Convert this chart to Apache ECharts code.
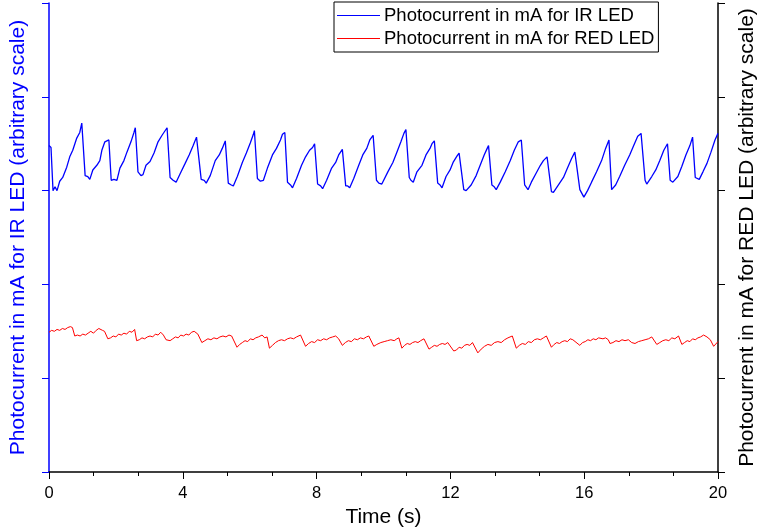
<!DOCTYPE html>
<html>
<head>
<meta charset="utf-8">
<style>
  html, body { margin: 0; padding: 0; background: #fff; }
  #chart { width: 761px; height: 532px; }
</style>
<script src="https://cdn.jsdelivr.net/npm/echarts@6/dist/echarts.min.js"></script>
</head>
<body>
<div id="chart"></div>
<script>
// 数据
const xTicks = [0, 4, 8, 12, 16, 20];

const irTime = [
  0, 0.06, 0.12, 0.18, 0.24, 0.32, 0.41, 0.53, 0.62, 0.71, 0.83, 0.92, 0.98,
  1.08, 1.16, 1.22, 1.31, 1.43, 1.52, 1.58, 1.67, 1.79,
  1.86, 1.94, 2.03, 2.12, 2.24, 2.33, 2.45, 2.54, 2.58,
  2.66, 2.75, 2.81, 2.90, 3.02, 3.14, 3.26, 3.38, 3.53,
  3.62, 3.71, 3.80, 3.92, 4.07, 4.19, 4.31, 4.41, 4.46,
  4.55, 4.64, 4.70, 4.82, 4.97, 5.09, 5.18, 5.27,
  5.36, 5.45, 5.51, 5.63, 5.78, 5.90, 6.02, 6.11, 6.14,
  6.23, 6.32, 6.41, 6.53, 6.68, 6.80, 6.92, 6.98, 7.01, 7.05,
  7.13, 7.22, 7.28, 7.40, 7.55, 7.67, 7.79, 7.88, 7.94,
  8.03, 8.12, 8.18, 8.30, 8.45, 8.57, 8.66, 8.77,
  8.87, 8.93, 8.99, 9.11, 9.26, 9.38, 9.50, 9.59, 9.69,
  9.79, 9.86, 9.95, 10.13, 10.28, 10.40, 10.52, 10.61, 10.67,
  10.77, 10.82, 10.89, 11.00, 11.15, 11.27, 11.39, 11.45, 11.52,
  11.62, 11.69, 11.75, 11.87, 11.99, 12.08, 12.20, 12.26, 12.30,
  12.40, 12.47, 12.50, 12.62, 12.77, 12.89, 13.01, 13.10, 13.14,
  13.24, 13.31, 13.37, 13.49, 13.64, 13.79, 13.91, 14.03, 14.12,
  14.22, 14.27, 14.32, 14.42, 14.57, 14.69, 14.78, 14.89,
  15.02, 15.08, 15.12, 15.23, 15.38, 15.50, 15.62, 15.72,
  15.87, 15.92, 15.99, 16.10, 16.22, 16.37, 16.52, 16.64, 16.74,
  16.82, 16.87, 16.94, 17.06, 17.21, 17.36, 17.48, 17.60, 17.70,
  17.82, 17.87, 17.92, 18.02, 18.14, 18.26, 18.38, 18.49,
  18.57, 18.65, 18.70, 18.80, 18.92, 19.04, 19.16, 19.24,
  19.32, 19.37, 19.44, 19.55, 19.67, 19.79, 19.91, 20.0
];
const irCurrent = [
  3.48, 3.46, 3.00, 3.04, 3.00, 3.10, 3.14, 3.25, 3.36, 3.43, 3.56, 3.62, 3.72,
  3.16, 3.15, 3.12, 3.22, 3.27, 3.32, 3.43, 3.52, 3.54,
  3.11, 3.12, 3.11, 3.24, 3.32, 3.41, 3.52, 3.62, 3.67,
  3.20, 3.16, 3.17, 3.27, 3.31, 3.40, 3.52, 3.59, 3.67,
  3.14, 3.11, 3.09, 3.18, 3.29, 3.38, 3.48, 3.57, 3.59,
  3.12, 3.11, 3.08, 3.16, 3.32, 3.38, 3.45, 3.53,
  3.08, 3.06, 3.05, 3.15, 3.30, 3.40, 3.51, 3.60, 3.64,
  3.13, 3.10, 3.11, 3.24, 3.38, 3.45, 3.54, 3.60, 3.59, 3.62,
  3.09, 3.06, 3.03, 3.13, 3.27, 3.36, 3.43, 3.46, 3.50,
  3.07, 3.05, 3.02, 3.11, 3.24, 3.30, 3.38, 3.44,
  3.05, 3.05, 3.03, 3.13, 3.27, 3.38, 3.45, 3.54, 3.59,
  3.11, 3.08, 3.07, 3.20, 3.30, 3.41, 3.52, 3.61, 3.65,
  3.14, 3.11, 3.09, 3.20, 3.27, 3.38, 3.45, 3.50, 3.53,
  3.08, 3.06, 3.03, 3.15, 3.22, 3.30, 3.37, 3.40, 3.41,
  3.01, 3.00, 2.99, 3.06, 3.16, 3.27, 3.38, 3.45, 3.48,
  3.06, 3.04, 3.01, 3.09, 3.20, 3.32, 3.43, 3.52, 3.54,
  3.06, 3.04, 3.01, 3.09, 3.19, 3.27, 3.32, 3.36,
  2.99, 2.98, 2.97, 3.06, 3.14, 3.24, 3.34, 3.41,
  3.01, 3.02, 2.93, 3.00, 3.09, 3.20, 3.32, 3.45, 3.54,
  3.01, 3.02, 3.06, 3.15, 3.27, 3.38, 3.48, 3.58, 3.61,
  3.11, 3.07, 3.05, 3.15, 3.22, 3.32, 3.43, 3.50,
  3.11, 3.09, 3.07, 3.15, 3.26, 3.38, 3.48, 3.57,
  3.14, 3.13, 3.12, 3.20, 3.29, 3.41, 3.54, 3.61
];

const redTime = [
  0, 0.08, 0.16, 0.24, 0.32, 0.40, 0.48, 0.56, 0.64, 0.70, 0.77,
  0.85, 0.93, 1.01, 1.09, 1.17, 1.25, 1.33, 1.41, 1.49, 1.54, 1.60, 1.66, 1.76,
  1.84, 1.92, 2.00, 2.08, 2.16, 2.24, 2.32, 2.40, 2.48, 2.56, 2.62,
  2.70, 2.78, 2.86, 2.94, 3.02, 3.10, 3.18, 3.26, 3.34, 3.42, 3.50, 3.62,
  3.70, 3.78, 3.86, 3.94, 4.02, 4.10, 4.18, 4.26, 4.34, 4.45, 4.57,
  4.66, 4.75, 4.84, 4.93, 5.02, 5.11, 5.20, 5.29, 5.38, 5.46, 5.51, 5.62,
  5.70, 5.78, 5.86, 5.94, 6.02, 6.10, 6.18, 6.26, 6.37, 6.45, 6.52, 6.59,
  6.68, 6.77, 6.86, 6.95, 7.04, 7.13, 7.22, 7.31, 7.40, 7.52, 7.67,
  7.76, 7.85, 7.94, 8.03, 8.12, 8.21, 8.30, 8.39, 8.48, 8.57, 8.66, 8.77,
  8.86, 8.95, 9.04, 9.13, 9.22, 9.31, 9.40, 9.49, 9.56, 9.71, 9.80, 9.92,
  10.02, 10.12, 10.22, 10.32, 10.40, 10.46, 10.55,
  10.63, 10.71, 10.79, 10.87, 10.95, 11.03, 11.11, 11.21, 11.36,
  11.44, 11.52, 11.60, 11.68, 11.76, 11.84, 11.92, 11.96, 12.10,
  12.18, 12.26, 12.34, 12.42, 12.50, 12.58, 12.66, 12.70, 12.82,
  12.92, 13.02, 13.12, 13.22, 13.32, 13.42, 13.52, 13.62, 13.72, 13.85, 13.97,
  14.06, 14.15, 14.24, 14.33, 14.42, 14.51, 14.60, 14.69, 14.78, 14.87, 15.02,
  15.10, 15.18, 15.26, 15.34, 15.42, 15.50, 15.58, 15.66, 15.71, 15.87,
  15.95, 16.03, 16.11, 16.19, 16.27, 16.35, 16.43, 16.47, 16.56, 16.64, 16.72, 16.77,
  16.86, 16.95, 17.04, 17.13, 17.22, 17.32, 17.42, 17.52, 17.62, 17.72, 17.82, 17.92, 18.02, 18.17,
  18.26, 18.35, 18.44, 18.53, 18.62, 18.71, 18.82, 18.92,
  19.00, 19.08, 19.16, 19.24, 19.32, 19.40, 19.48, 19.57, 19.67, 19.77, 19.87, 20.0
];
const redCurrent = [
  1.49, 1.51, 1.50, 1.52, 1.51, 1.53, 1.52, 1.54, 1.55, 1.54, 1.45,
  1.46, 1.45, 1.47, 1.46, 1.48, 1.50, 1.48, 1.51, 1.53, 1.54, 1.51, 1.50, 1.42,
  1.43, 1.45, 1.44, 1.47, 1.46, 1.48, 1.47, 1.50, 1.49, 1.52, 1.40,
  1.41, 1.43, 1.42, 1.44, 1.45, 1.44, 1.47, 1.46, 1.49, 1.46, 1.41, 1.40,
  1.42, 1.44, 1.43, 1.46, 1.45, 1.47, 1.46, 1.49, 1.50, 1.47, 1.38,
  1.40, 1.42, 1.41, 1.43, 1.42, 1.44, 1.45, 1.44, 1.46, 1.45, 1.47, 1.33,
  1.36, 1.38, 1.40, 1.39, 1.42, 1.41, 1.43, 1.44, 1.46, 1.43, 1.44, 1.32,
  1.35, 1.38, 1.40, 1.41, 1.40, 1.42, 1.43, 1.42, 1.44, 1.46, 1.34,
  1.37, 1.39, 1.38, 1.41, 1.40, 1.42, 1.41, 1.43, 1.44, 1.45, 1.42, 1.35,
  1.38, 1.40, 1.39, 1.42, 1.41, 1.43, 1.42, 1.44, 1.45, 1.34, 1.36, 1.38,
  1.39, 1.40, 1.41, 1.40, 1.42, 1.43, 1.32,
  1.35, 1.37, 1.36, 1.38, 1.39, 1.38, 1.40, 1.42, 1.31,
  1.33, 1.35, 1.34, 1.36, 1.37, 1.36, 1.38, 1.39, 1.29,
  1.30, 1.33, 1.32, 1.35, 1.36, 1.35, 1.38, 1.39, 1.27,
  1.31, 1.34, 1.36, 1.35, 1.38, 1.39, 1.38, 1.41, 1.43, 1.45, 1.32,
  1.35, 1.37, 1.36, 1.39, 1.38, 1.41, 1.42, 1.41, 1.43, 1.45, 1.33,
  1.36, 1.38, 1.37, 1.39, 1.40, 1.39, 1.42, 1.41, 1.42, 1.35,
  1.38, 1.39, 1.41, 1.40, 1.42, 1.41, 1.43, 1.44, 1.42, 1.43, 1.41, 1.37,
  1.38, 1.40, 1.39, 1.41, 1.40, 1.41, 1.38, 1.37, 1.39, 1.40, 1.41, 1.42, 1.44, 1.36,
  1.38, 1.40, 1.41, 1.40, 1.43, 1.42, 1.45, 1.36,
  1.38, 1.40, 1.39, 1.42, 1.41, 1.43, 1.44, 1.46, 1.44, 1.41, 1.34, 1.39
];

const irName = 'Photocurrent in mA for IR LED';
const redName = 'Photocurrent in mA for RED LED';

const zip = (xs, ys) => xs.map((x, i) => [x, ys[i]]);
const font = 'Liberation Sans, Arial, sans-serif';
const blue = '#0000ff';

const chart = echarts.init(document.getElementById('chart'));
chart.setOption({
    animation: false,
    backgroundColor: '#fff',
    grid: { left: 49, right: 43, top: 3, bottom: 60, outerBoundsMode: 'none' },
    legend: {
        data: [irName, redName],
        orient: 'vertical',
        left: 334,
        top: 2,
        padding: [4, 4, 4, 3],
        itemGap: 4,
        itemWidth: 43,
        itemHeight: 1,
        icon: 'rect',
        borderColor: '#000',
        borderWidth: 1,
        textStyle: { fontFamily: font, fontSize: 18.5, color: '#000', padding: [0, 0, 0, -1] },
    },
    xAxis: {
        type: 'value',
        min: 0,
        max: 20,
        interval: 4,
        name: 'Time (s)',
        nameLocation: 'middle',
        nameGap: 32,
        nameTextStyle: { fontFamily: font, fontSize: 21, color: '#000' },
        axisLine: { show: true, lineStyle: { color: '#000', width: 1.5 } },
        axisTick: { show: true, length: 7, lineStyle: { color: '#000', width: 1 } },
        minorTick: { show: true, splitNumber: 3, length: 4, lineStyle: { color: '#000', width: 1 } },
        axisLabel: {
            fontFamily: font, fontSize: 16.5, color: '#000', margin: 13,
            customValues: xTicks,
        },
        splitLine: { show: false },
    },
    yAxis: [
        {
            type: 'value',
            position: 'left',
            min: 0,
            max: 5,
            interval: 1,
            name: irName + ' (arbitrary scale)',
            nameLocation: 'middle',
            nameRotate: 90,
            nameGap: 20,
            nameTextStyle: { fontFamily: font, fontSize: 21, color: blue },
            axisLine: { show: true, lineStyle: { color: blue, width: 1.5 } },
            axisTick: { show: true, length: 7, lineStyle: { color: blue, width: 1 } },
            axisLabel: { show: false },
            splitLine: { show: false },
        },
        {
            type: 'value',
            position: 'right',
            min: 0,
            max: 5,
            interval: 1,
            name: redName + ' (arbitrary scale)',
            nameLocation: 'middle',
            nameRotate: 90,
            nameGap: 19,
            nameTextStyle: { fontFamily: font, fontSize: 21, color: '#000' },
            axisLine: { show: true, lineStyle: { color: '#000', width: 1.5 } },
            axisTick: { show: true, length: 7, lineStyle: { color: '#000', width: 1 } },
            axisLabel: { show: false },
            splitLine: { show: false },
        },
    ],
    series: [
        {
            name: irName,
            type: 'line',
            yAxisIndex: 0,
            data: zip(irTime, irCurrent),
            showSymbol: false,
            lineStyle: { color: blue, width: 1.3 },
            itemStyle: { color: blue },
        },
        {
            name: redName,
            type: 'line',
            yAxisIndex: 1,
            data: zip(redTime, redCurrent),
            showSymbol: false,
            lineStyle: { color: '#ff0000', width: 1 },
            itemStyle: { color: '#ff0000' },
        },
    ],
});
</script>
</body>
</html>
